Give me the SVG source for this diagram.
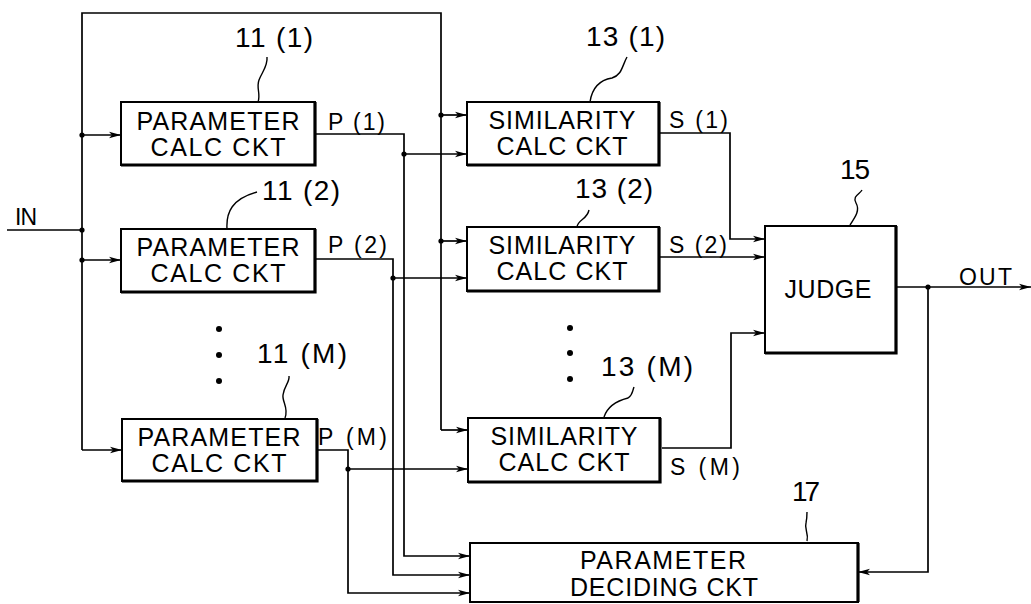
<svg xmlns="http://www.w3.org/2000/svg" width="1031" height="604" viewBox="0 0 1031 604">
<defs>
<marker id="arr" viewBox="0 0 12 8" refX="12" refY="4" markerWidth="12" markerHeight="8" markerUnits="userSpaceOnUse" orient="auto">
<path d="M0 0.8 L12 4 L0 7.2 L3 4 Z" fill="#000"/>
</marker>
<style>
.box{fill:#fff;stroke:#000;stroke-width:2}
.sh{fill:none;stroke:#000;stroke-width:3.2}
.w{fill:none;stroke:#000;stroke-width:1.7}
.a{fill:none;stroke:#000;stroke-width:1.7;marker-end:url(#arr)}
.ld{fill:none;stroke:#000;stroke-width:1.4}
.t{font-family:"Liberation Sans",Arial,sans-serif;font-size:25px;fill:#000;text-anchor:middle}
.n{font-family:"Liberation Sans",Arial,sans-serif;font-size:28px;fill:#000;text-anchor:start}
.s{font-family:"Liberation Sans",Arial,sans-serif;font-size:23px;fill:#000;text-anchor:start}
.dot{fill:#000}
</style>
</defs>
<rect width="1031" height="604" fill="#fff"/>

<g id="connectors">
<path class="w" d="M7 230 H82"/>
<path class="w" d="M82 450 V13 H441 V430"/>
<path class="a" d="M82 135 H121"/>
<path class="a" d="M82 260 H121"/>
<path class="a" d="M82 450 H122"/>
<path class="a" d="M441 115 H467"/>
<path class="a" d="M441 241 H467"/>
<path class="a" d="M441 430 H468"/>
<path class="a" d="M315 134 H404 V556 H470"/>
<path class="a" d="M404 154 H467"/>
<path class="a" d="M315 259 H393 V575 H470"/>
<path class="a" d="M393 278 H467"/>
<path class="a" d="M317 450 H348 V593 H470"/>
<path class="a" d="M348 469 H468"/>
<path class="a" d="M659 133 H730 V239 H765"/>
<path class="a" d="M659 257 H765"/>
<path class="a" d="M662 448 H731 V333 H765"/>
<path class="a" d="M897 287 H1031"/>
<path class="a" d="M928 287 V572 H858"/>
<circle class="dot" cx="82" cy="230" r="2.6"/>
<circle class="dot" cx="82" cy="135" r="2.6"/>
<circle class="dot" cx="82" cy="260" r="2.6"/>
<circle class="dot" cx="441" cy="115" r="2.6"/>
<circle class="dot" cx="441" cy="241" r="2.6"/>
<circle class="dot" cx="404" cy="154" r="2.6"/>
<circle class="dot" cx="393" cy="278" r="2.6"/>
<circle class="dot" cx="348" cy="469" r="2.6"/>
<circle class="dot" cx="928" cy="287" r="2.6"/>
<text class="s" x="15" y="225" textLength="22">IN</text>
<text class="s" x="959" y="285" textLength="53">OUT</text>
<text class="s" x="328" y="130" textLength="57">P (1)</text>
<text class="s" x="328" y="253" textLength="59">P (2)</text>
<text class="s" x="318" y="445" textLength="69">P (M)</text>
<text class="s" x="669" y="128" textLength="59">S (1)</text>
<text class="s" x="669" y="253" textLength="58">S (2)</text>
<text class="s" x="670" y="475" textLength="70">S (M)</text>
</g>

<g id="param1">
<rect class="box" x="121" y="102" width="194" height="63"/>
<path class="sh" d="M315 102 V165 H121"/>
<text class="t" x="218" y="130" textLength="163">PARAMETER</text>
<text class="t" x="218" y="156" textLength="135">CALC CKT</text>
<path class="ld" d="M258 102 C261 94 256 88 259 80 C262 72 268 66 267 57"/>
<text class="n" x="235" y="47" textLength="78">11 (1)</text>
</g>

<g id="param2">
<rect class="box" x="121" y="229" width="194" height="63"/>
<path class="sh" d="M315 229 V292 H121"/>
<text class="t" x="218" y="256" textLength="163">PARAMETER</text>
<text class="t" x="218" y="282" textLength="135">CALC CKT</text>
<path class="ld" d="M227 229 C226 212 232 199 257 192"/>
<text class="n" x="262" y="200" textLength="78">11 (2)</text>
</g>

<g id="paramM">
<rect class="box" x="122" y="419" width="195" height="62"/>
<path class="sh" d="M317 419 V481 H122"/>
<text class="t" x="219" y="446" textLength="163">PARAMETER</text>
<text class="t" x="219" y="472" textLength="135">CALC CKT</text>
<path class="ld" d="M285 418 C289 408 282 402 283 395 C284 386 290 382 289 376"/>
<text class="n" x="257" y="363" textLength="90">11 (M)</text>
<circle class="dot" cx="219" cy="329" r="3"/>
<circle class="dot" cx="219" cy="355" r="3"/>
<circle class="dot" cx="219" cy="381" r="3"/>
</g>

<g id="sim1">
<rect class="box" x="467" y="102" width="192" height="63"/>
<path class="sh" d="M659 102 V165 H467"/>
<text class="t" x="562" y="129" textLength="147">SIMILARITY</text>
<text class="t" x="562" y="155" textLength="131">CALC CKT</text>
<path class="ld" d="M590 102 C592 88 600 80 612 78 C622 75 622 66 627 57"/>
<text class="n" x="586" y="46" textLength="79">13 (1)</text>
</g>

<g id="sim2">
<rect class="box" x="467" y="227" width="192" height="64"/>
<path class="sh" d="M659 227 V291 H467"/>
<text class="t" x="562" y="254" textLength="147">SIMILARITY</text>
<text class="t" x="562" y="280" textLength="131">CALC CKT</text>
<path class="ld" d="M577 227 C578 219 587 220 589 210"/>
<text class="n" x="575" y="198" textLength="78">13 (2)</text>
</g>

<g id="simM">
<rect class="box" x="468" y="418" width="192" height="64"/>
<path class="sh" d="M660 418 V482 H468"/>
<text class="t" x="564" y="445" textLength="147">SIMILARITY</text>
<text class="t" x="564" y="471" textLength="131">CALC CKT</text>
<path class="ld" d="M604 417 C608 405 620 400 628 398 C633 395 632 392 634 387"/>
<text class="n" x="601" y="376" textLength="92">13 (M)</text>
<circle class="dot" cx="570" cy="328" r="3"/>
<circle class="dot" cx="570" cy="353" r="3"/>
<circle class="dot" cx="570" cy="379" r="3"/>
</g>

<g id="judge">
<rect class="box" x="765" y="226" width="131" height="127"/>
<path class="sh" d="M896 226 V353 H765"/>
<text class="t" x="828" y="298" textLength="87">JUDGE</text>
<path class="ld" d="M850 225 C856 216 860 210 856 203 C852 196 860 194 862 190"/>
<text class="n" x="840" y="179" textLength="30">15</text>
</g>

<g id="decide">
<rect class="box" x="470" y="543" width="388" height="59"/>
<path class="sh" d="M858 543 V602"/>
<text class="t" x="663" y="569" textLength="166">PARAMETER</text>
<text class="t" x="664" y="596" textLength="188">DECIDING CKT</text>
<path class="ld" d="M807 541 C809 533 804 529 806 523 C807 518 807 515 807 512"/>
<text class="n" x="792" y="501" textLength="28">17</text>
</g>
</svg>
